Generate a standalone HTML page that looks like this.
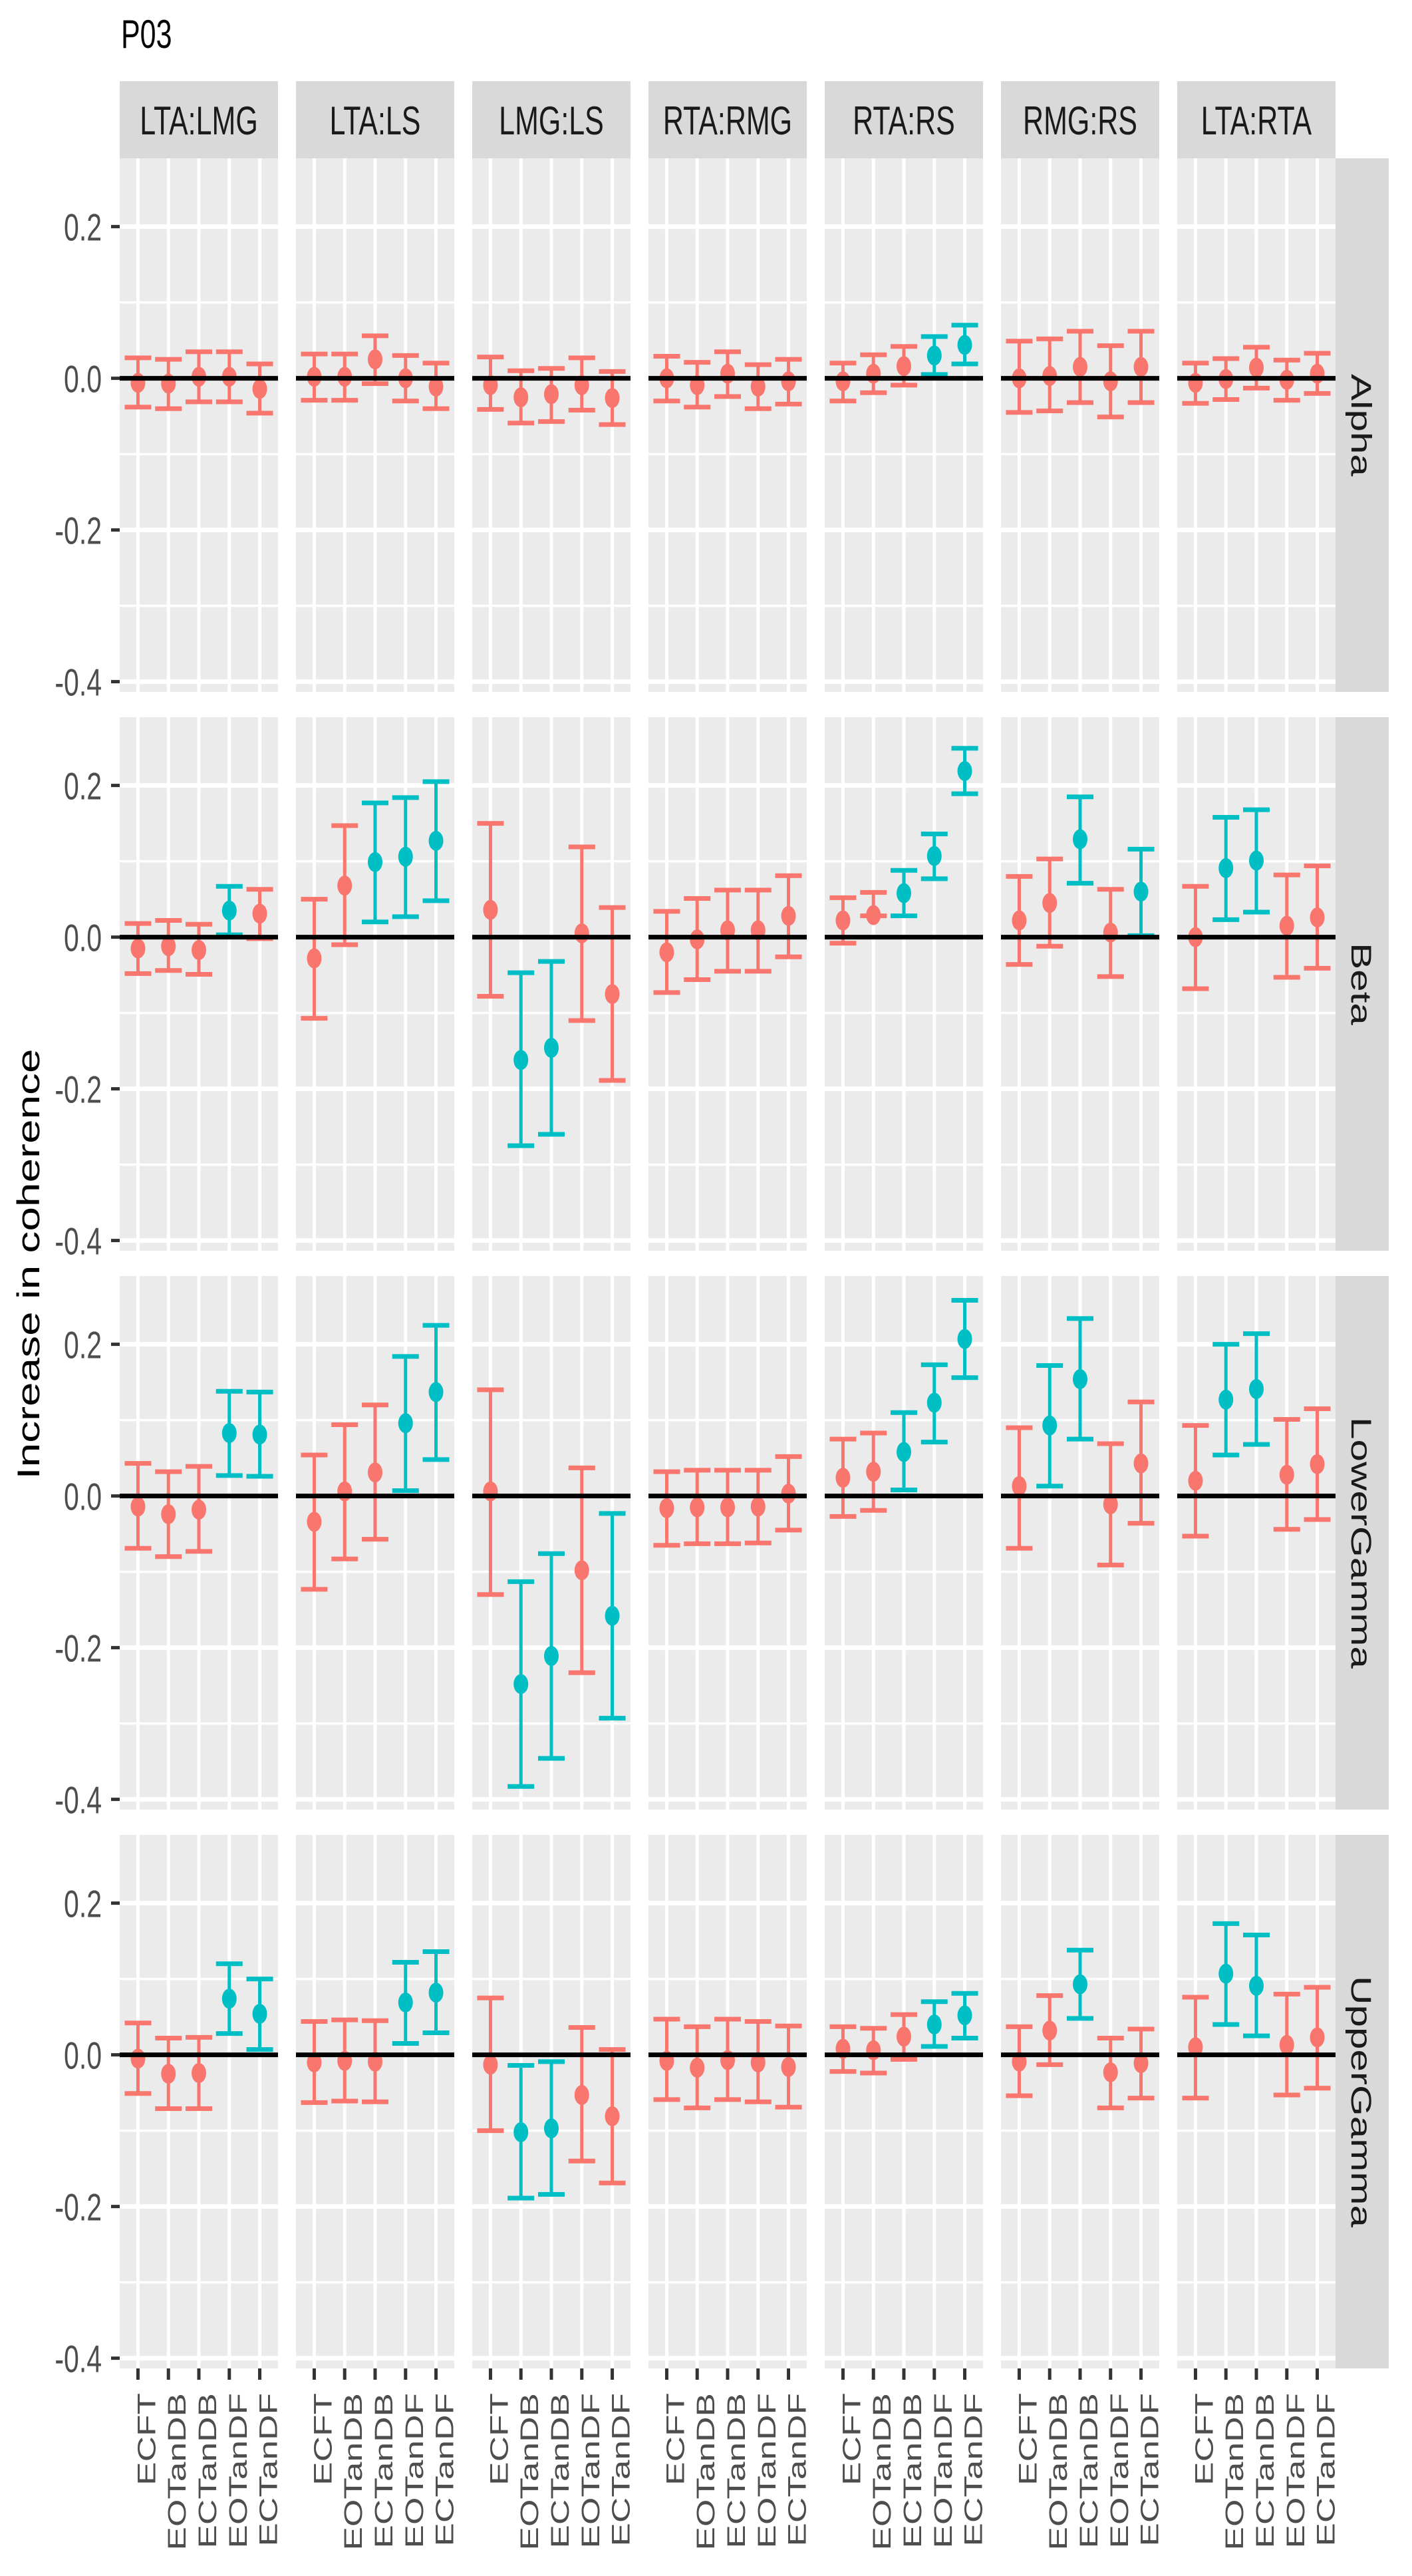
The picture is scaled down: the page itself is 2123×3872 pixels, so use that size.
<!DOCTYPE html>
<html><head><meta charset="utf-8"><style>
html,body{margin:0;padding:0;background:#fff;}
svg{display:block;}
text{font-family:"Liberation Sans",Arial,sans-serif;}
</style></head><body>
<svg id="chart" xmlns="http://www.w3.org/2000/svg" width="2123" height="3872" viewBox="0 0 2123 3872">
<rect x="0" y="0" width="2123" height="3872" fill="#ffffff"/>
<g id="layer"></g>
</svg>
<script>
const pairs = ["LTA:LMG","LTA:LS","LMG:LS","RTA:RMG","RTA:RS","RMG:RS","LTA:RTA"];
const bands = ["Alpha","Beta","LowerGamma","UpperGamma"];
const conditions = ["ECFT","EOTanDB","ECTanDB","EOTanDF","ECTanDF"];
const yTickValues = [0.2,0.0,-0.2,-0.4];
const yTickLabels = ["0.2","0.0","-0.2","-0.4"];
const yMinorValues = [0.1,-0.1,-0.3];
// means[band][pair][condition]
const means = [
 [[-0.006,-0.007,0.002,0.002,-0.014],[0.002,0.002,0.025,0.0,-0.011],[-0.009,-0.025,-0.021,-0.009,-0.026],[0.0,-0.009,0.006,-0.011,-0.004],[-0.004,0.006,0.016,0.030,0.044],[0.0,0.003,0.015,-0.004,0.015],[-0.006,-0.001,0.014,-0.002,0.006]],
 [[-0.015,-0.012,-0.017,0.035,0.031],[-0.028,0.068,0.099,0.106,0.127],[0.036,-0.162,-0.146,0.005,-0.075],[-0.020,-0.003,0.009,0.009,0.028],[0.022,0.029,0.058,0.107,0.219],[0.022,0.045,0.129,0.006,0.060],[0.0,0.091,0.101,0.015,0.026]],
 [[-0.014,-0.024,-0.018,0.083,0.081],[-0.034,0.006,0.031,0.096,0.137],[0.006,-0.248,-0.211,-0.098,-0.158],[-0.016,-0.015,-0.015,-0.014,0.003],[0.024,0.032,0.058,0.123,0.207],[0.013,0.093,0.154,-0.011,0.043],[0.020,0.127,0.141,0.028,0.042]],
 [[-0.005,-0.025,-0.024,0.074,0.054],[-0.010,-0.008,-0.009,0.069,0.082],[-0.013,-0.102,-0.097,-0.053,-0.081],[-0.008,-0.017,-0.007,-0.010,-0.016],[0.008,0.006,0.024,0.040,0.052],[-0.009,0.032,0.093,-0.023,-0.011],[0.010,0.107,0.091,0.013,0.023]]
];
const lows = [
 [[-0.038,-0.040,-0.031,-0.031,-0.046],[-0.029,-0.029,-0.007,-0.030,-0.040],[-0.041,-0.059,-0.057,-0.042,-0.061],[-0.030,-0.038,-0.024,-0.040,-0.034],[-0.030,-0.019,-0.009,0.005,0.019],[-0.045,-0.043,-0.032,-0.051,-0.032],[-0.033,-0.028,-0.013,-0.029,-0.020]],
 [[-0.048,-0.044,-0.049,0.003,-0.002],[-0.107,-0.010,0.020,0.027,0.048],[-0.078,-0.275,-0.260,-0.110,-0.189],[-0.073,-0.056,-0.045,-0.045,-0.026],[-0.008,0.028,0.028,0.077,0.189],[-0.036,-0.012,0.071,-0.052,0.002],[-0.068,0.023,0.033,-0.053,-0.041]],
 [[-0.069,-0.080,-0.073,0.027,0.026],[-0.123,-0.083,-0.057,0.007,0.048],[-0.130,-0.383,-0.346,-0.233,-0.293],[-0.065,-0.063,-0.063,-0.062,-0.045],[-0.027,-0.019,0.008,0.071,0.156],[-0.069,0.013,0.075,-0.091,-0.036],[-0.053,0.054,0.068,-0.044,-0.031]],
 [[-0.051,-0.071,-0.071,0.028,0.007],[-0.063,-0.061,-0.062,0.015,0.029],[-0.100,-0.189,-0.184,-0.140,-0.169],[-0.059,-0.070,-0.059,-0.062,-0.069],[-0.022,-0.024,-0.006,0.011,0.022],[-0.054,-0.013,0.048,-0.070,-0.057],[-0.057,0.040,0.025,-0.053,-0.044]]
];
const highs = [
 [[0.027,0.025,0.035,0.035,0.019],[0.032,0.032,0.056,0.030,0.020],[0.028,0.010,0.013,0.027,0.009],[0.029,0.021,0.035,0.018,0.025],[0.020,0.031,0.042,0.055,0.070],[0.049,0.052,0.062,0.043,0.062],[0.020,0.026,0.041,0.024,0.033]],
 [[0.018,0.022,0.017,0.067,0.063],[0.050,0.147,0.177,0.184,0.205],[0.150,-0.047,-0.032,0.119,0.039],[0.034,0.051,0.062,0.062,0.081],[0.052,0.059,0.088,0.136,0.249],[0.080,0.103,0.185,0.063,0.116],[0.067,0.158,0.168,0.082,0.094]],
 [[0.043,0.032,0.039,0.138,0.137],[0.054,0.094,0.120,0.184,0.225],[0.140,-0.113,-0.076,0.037,-0.023],[0.032,0.034,0.034,0.034,0.052],[0.075,0.083,0.110,0.173,0.258],[0.090,0.172,0.234,0.069,0.124],[0.093,0.200,0.214,0.101,0.115]],
 [[0.042,0.022,0.023,0.120,0.100],[0.044,0.046,0.045,0.122,0.136],[0.075,-0.014,-0.009,0.036,0.007],[0.047,0.037,0.047,0.044,0.038],[0.037,0.035,0.053,0.070,0.081],[0.037,0.078,0.138,0.022,0.034],[0.076,0.173,0.158,0.080,0.089]]
];
// 1 = significant (teal), 0 = not (red)
const significant = [
 [[0,0,0,0,0],[0,0,0,0,0],[0,0,0,0,0],[0,0,0,0,0],[0,0,0,1,1],[0,0,0,0,0],[0,0,0,0,0]],
 [[0,0,0,1,0],[0,0,1,1,1],[0,1,1,0,0],[0,0,0,0,0],[0,0,1,1,1],[0,0,1,0,1],[0,1,1,0,0]],
 [[0,0,0,1,1],[0,0,0,1,1],[0,1,1,0,1],[0,0,0,0,0],[0,0,1,1,1],[0,1,1,0,0],[0,1,1,0,0]],
 [[0,0,0,1,1],[0,0,0,1,1],[0,1,1,0,0],[0,0,0,0,0],[0,0,0,1,1],[0,0,1,0,0],[0,1,1,0,0]]
];

const NS = "http://www.w3.org/2000/svg";
const layer = document.getElementById("layer");
const PANEL_X0 = 180, PANEL_PITCH = 265, PANEL_W = 238;
const ROW_Y0 = 238, ROW_PITCH = 840, ROW_H = 802;
const Y_TOP = 0.29, Y_PX = 1140;
const RED = "#F8766D", TEAL = "#00BFC4";
function px(c){ return PANEL_X0 + c*PANEL_PITCH; }
function xScale(c,i){ return px(c) + (i + 1 - 0.4) * (PANEL_W/5.2); }
function yScale(r,v){ return ROW_Y0 + r*ROW_PITCH + (Y_TOP - v) * Y_PX; }
function mk(tag, attrs, parent){
  const e = document.createElementNS(NS, tag);
  for (const k in attrs) e.setAttribute(k, attrs[k]);
  (parent||layer).appendChild(e);
  return e;
}

// title
let t = mk("text",{transform:"translate(182,72) scale(1,1.4)","font-size":"43",fill:"#000"});
t.textContent = "P03";



// y axis title
t = mk("text",{transform:"translate(59,1900) scale(1,1.4) rotate(-90)","font-size":"47","text-anchor":"middle",fill:"#000"});
t.textContent = "Increase in coherence";



// strips top
for (let c=0;c<pairs.length;c++){
  const g = mk("g",{});
  
  
  mk("rect",{x:px(c),y:122,width:PANEL_W,height:116,fill:"#D9D9D9"},g);
  const s = mk("text",{transform:"translate("+(px(c)+PANEL_W/2)+",202) scale(1,1.4)","font-size":"43","text-anchor":"middle",fill:"#1a1a1a"},g);
  s.textContent = pairs[c];
}

for (let r=0;r<bands.length;r++){
  const top = ROW_Y0 + r*ROW_PITCH;
  // right strip
  const sg = mk("g",{});
  
  
  mk("rect",{x:2006,y:top,width:82,height:ROW_H,fill:"#D9D9D9"},sg);
  const st = mk("text",{transform:"translate(2032,"+(top+ROW_H/2)+") scale(1,1.4) rotate(90)","font-size":"43","text-anchor":"middle",fill:"#1a1a1a"},sg);
  st.textContent = bands[r];
  // y ticks
  for (let k=0;k<yTickValues.length;k++){
    const yy = yScale(r,yTickValues[k]);
    const tk = mk("line",{x1:167,x2:180,y1:yy,y2:yy,stroke:"#333",  "stroke-width":"5"});
    
    
    const tl = mk("text",{transform:"translate(153,"+(yy+21)+") scale(1,1.4)","font-size":"41","text-anchor":"end",fill:"#4d4d4d"});
    tl.textContent = yTickLabels[k];
    
    
  }
  for (let c=0;c<pairs.length;c++){
    const pg = mk("g",{});
    
    
    mk("rect",{x:px(c),y:top,width:PANEL_W,height:ROW_H,fill:"#EBEBEB"},pg);
    for (const v of yMinorValues){
      const yy=yScale(r,v);
      mk("line",{x1:px(c),x2:px(c)+PANEL_W,y1:yy,y2:yy,stroke:"#fff","stroke-width":"3.5"},pg);
    }
    for (const v of yTickValues){
      const yy=yScale(r,v);
      mk("line",{x1:px(c),x2:px(c)+PANEL_W,y1:yy,y2:yy,stroke:"#fff","stroke-width":"7"},pg);
    }
    for (let i=0;i<conditions.length;i++){
      const xx = xScale(c,i);
      mk("line",{x1:xx,x2:xx,y1:top,y2:top+ROW_H,stroke:"#fff","stroke-width":"5"},pg);
    }
    for (let i=0;i<conditions.length;i++){
      const xx = xScale(c,i);
      const col = significant[r][c][i] ? TEAL : RED;
      const eg = mk("g",{},pg);
      
      
      const yl = yScale(r,lows[r][c][i]), yh = yScale(r,highs[r][c][i]), ym = yScale(r,means[r][c][i]);
      mk("line",{x1:xx,x2:xx,y1:yh,y2:yl,stroke:col,"stroke-width":"5"},eg);
      mk("line",{x1:xx-20,x2:xx+20,y1:yh,y2:yh,stroke:col,"stroke-width":"7"},eg);
      mk("line",{x1:xx-20,x2:xx+20,y1:yl,y2:yl,stroke:col,"stroke-width":"7"},eg);
      const pt = mk("ellipse",{cx:xx,cy:ym,rx:11,ry:15,fill:col},eg);
      
      
    }
    const y0 = yScale(r,0);
    const zl = mk("line",{x1:px(c),x2:px(c)+PANEL_W,y1:y0,y2:y0,stroke:"#000","stroke-width":"7"},pg);
    
    
  }
}

// x ticks and labels
const bottom = ROW_Y0 + 3*ROW_PITCH + ROW_H;
for (let c=0;c<pairs.length;c++){
  for (let i=0;i<conditions.length;i++){
    const xx = xScale(c,i);
    const tk = mk("line",{x1:xx,x2:xx,y1:bottom,y2:bottom+17,stroke:"#333","stroke-width":"5"});
    
    
    const tl = mk("text",{transform:"translate("+(xx+26)+","+(bottom+37)+") scale(1,1.4) rotate(-90)","font-size":"38","text-anchor":"end",fill:"#4d4d4d"});
    tl.textContent = conditions[i];
    
    
  }
}
</script>
</body></html>
